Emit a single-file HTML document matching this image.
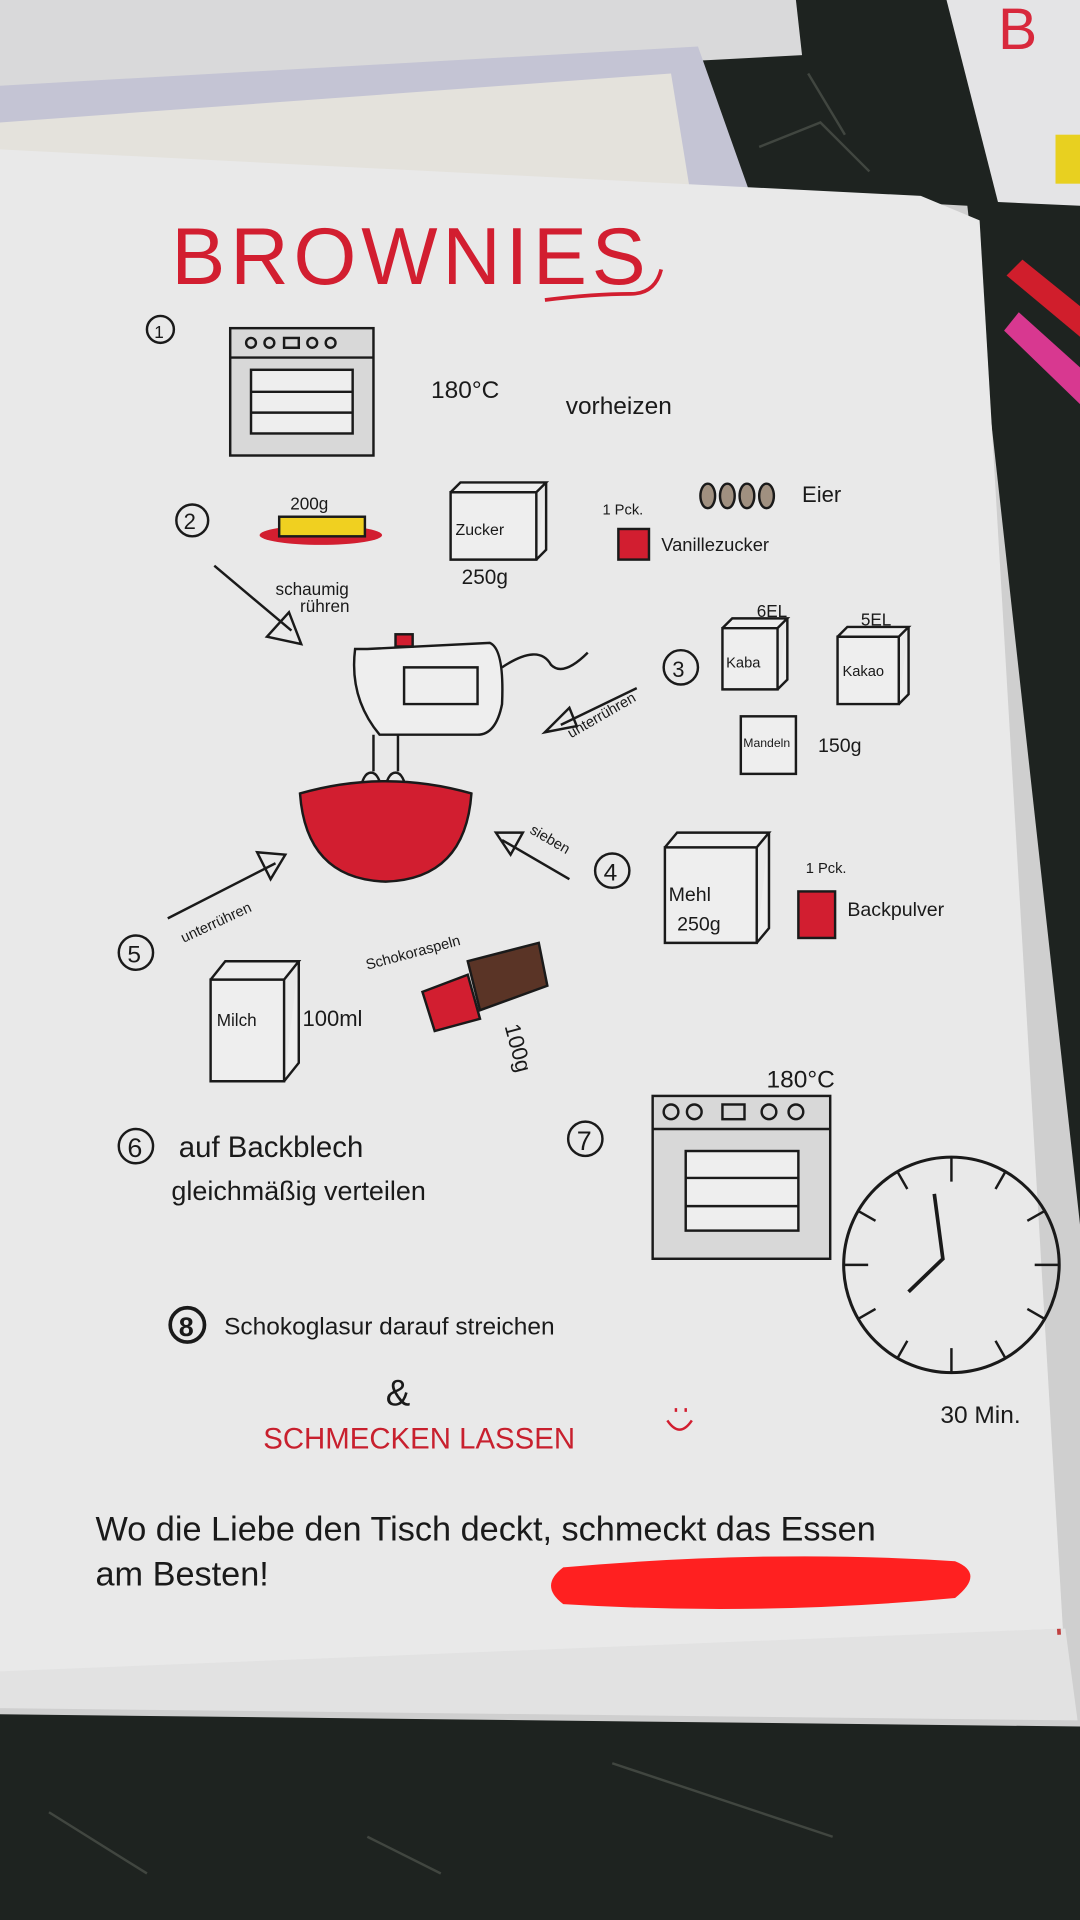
<!DOCTYPE html>
<html><head><meta charset="utf-8"><style>
html,body{margin:0;padding:0;width:1080px;height:1920px;overflow:hidden;background:#1c201e}
svg{display:block}
text{font-family:"Liberation Sans",sans-serif;fill:#1a1a1a}
</style></head><body>
<svg width="1080" height="1920" viewBox="0 0 882 1568" xmlns="http://www.w3.org/2000/svg">
<rect width="882" height="1568" fill="#1e2320"/>
<path d="M620 120 l50 -20 l40 40 M660 60 l30 50 M40 1480 l80 50 M500 1440 l180 60 M300 1500 l60 30" stroke="#50564f" stroke-width="2" fill="none" opacity=".7"/>
<!-- top left grid paper -->
<polygon points="0,0 650,0 655,45 0,80" fill="#d9d9da"/>
<!-- purple bordered paper -->
<polygon points="0,70 570,38 615,165 0,125" fill="#c4c4d4"/>
<polygon points="0,100 548,60 565,165 0,130" fill="#e4e2dc"/>
<!-- top right paper -->
<polygon points="773,0 882,0 882,168 815,165" fill="#e4e4e6"/>
<text x="815" y="40" font-size="48" style="fill:#d8283c">B</text>
<rect x="862" y="110" width="20" height="40" fill="#e8d020"/>
<!-- pens -->
<polygon points="822,225 835,212 882,250 882,275" fill="#d01e2c"/>
<polygon points="820,270 832,255 882,300 882,330" fill="#d83890"/>
<!-- page stack -->
<polygon points="0,125 790,168 882,1000 882,1410 0,1400" fill="#cfcfcf"/>
<polygon points="0,1360 870,1330 880,1405 0,1395" fill="#e2e2e2"/>
<line x1="790" y1="185" x2="865" y2="1335" stroke="#c04040" stroke-width="3"/>
<!-- main paper -->
<polygon points="0,122 752,160 800,180 868,1330 0,1365" fill="#e9e9e9"/>
<!-- title -->
<text x="140" y="232" font-size="66" letter-spacing="4" style="fill:#d21e30">BROWNIES</text>
<path d="M445 245 q40 -5 70 -5 q20 0 25 -20" stroke="#d21e30" stroke-width="3" fill="none"/>
<g stroke="#1a1a1a" stroke-width="2" fill="none">
<!-- 1 -->
<circle cx="131" cy="269" r="11"/>
<rect x="188" y="268" width="117" height="104" fill="#d8d8d8"/>
<line x1="188" y1="292" x2="305" y2="292"/>
<rect x="205" y="302" width="83" height="52" fill="#eeeeee"/>
<line x1="205" y1="320" x2="288" y2="320"/><line x1="205" y1="337" x2="288" y2="337"/>
<circle cx="205" cy="280" r="4"/><circle cx="220" cy="280" r="4"/><rect x="232" y="276" width="12" height="8"/><circle cx="255" cy="280" r="4"/><circle cx="270" cy="280" r="4"/>
<!-- 2 -->
<circle cx="157" cy="425" r="13"/>
<ellipse cx="262" cy="437" rx="50" ry="8" fill="#d21e30" stroke="none"/>
<rect x="228" y="422" width="70" height="16" fill="#f0d020"/>
<path d="M368 402 l70 0 l0 55 l-70 0z M368 402 l8 -8 l70 0 l-8 8 M446 394 l0 55 l-8 8" fill="#eee"/>
<rect x="505" y="432" width="25" height="25" fill="#d21e30"/>
<ellipse cx="578" cy="405" rx="6" ry="10" fill="#a09080"/><ellipse cx="594" cy="405" rx="6" ry="10" fill="#a09080"/><ellipse cx="610" cy="405" rx="6" ry="10" fill="#a09080"/><ellipse cx="626" cy="405" rx="6" ry="10" fill="#a09080"/>
<path d="M175 462 L238 515 M218 520 l28 6 l-10 -26z"/>
<!-- mixer -->
<path d="M300 530 l100 -5 q12 5 10 50 q-5 25 -20 25 l-80 0 q-25 -30 -20 -70z" fill="#eee"/>
<path d="M330 545 l60 0 l0 30 l-60 0z"/>
<rect x="323" y="518" width="14" height="10" fill="#d21e30"/>
<path d="M410 545 q30 -20 40 -2 q10 10 30 -10"/>
<path d="M305 600 l0 30 M325 600 l0 30"/>
<ellipse cx="303" cy="645" rx="8" ry="14"/><ellipse cx="323" cy="645" rx="8" ry="14"/>
<path d="M245 648 q70 -20 140 0 q-5 70 -70 72 q-65 -2 -70 -72z" fill="#d21e30"/>
<!-- 3 -->
<circle cx="556" cy="545" r="14"/>
<path d="M520 562 L458 592 M445 598 l20 -20 l6 15z"/>
<path d="M590 513 l45 0 l0 50 l-45 0z M590 513 l8 -8 l45 0 l-8 8 M643 505 l0 50 l-8 8" fill="#eee"/>
<path d="M684 520 l50 0 l0 55 l-50 0z M684 520 l8 -8 l50 0 l-8 8 M742 512 l0 55 l-8 8" fill="#eee"/>
<rect x="605" y="585" width="45" height="47" fill="#eee"/>
<!-- 4 -->
<circle cx="500" cy="711" r="14"/>
<path d="M465 718 L410 686 M405 680 l22 0 l-10 18z"/>
<path d="M543 692 l75 0 l0 78 l-75 0z M543 692 l10 -12 l75 0 l-10 12 M628 680 l0 78 l-10 12" fill="#eee"/>
<rect x="652" y="728" width="30" height="38" fill="#d21e30"/>
<!-- 5 -->
<circle cx="111" cy="778" r="14"/>
<path d="M137 750 L225 705 M210 696 l23 2 l-12 20z"/>
<path d="M172 800 l60 0 l0 83 l-60 0z M172 800 l12 -15 l60 0 l-12 15 M244 785 l0 83 l-12 15" fill="#eee"/>
<polygon points="345,810 382,796 392,832 355,842" fill="#d21e30"/>
<polygon points="382,785 440,770 447,805 392,825" fill="#5a3426"/>
<!-- 6,7 -->
<circle cx="111" cy="936" r="14"/>
<circle cx="478" cy="930" r="14"/>
<rect x="533" y="895" width="145" height="133" fill="#d8d8d8"/>
<line x1="533" y1="922" x2="678" y2="922"/>
<rect x="560" y="940" width="92" height="65" fill="#eee"/>
<line x1="560" y1="962" x2="652" y2="962"/><line x1="560" y1="985" x2="652" y2="985"/>
<circle cx="548" cy="908" r="6"/><circle cx="567" cy="908" r="6"/><rect x="590" y="902" width="18" height="12"/><circle cx="628" cy="908" r="6"/><circle cx="650" cy="908" r="6"/>
<circle cx="777" cy="1033" r="88" stroke-width="2.5"/>
<path d="M777 945 l0 20 M777 1121 l0 -20 M689 1033 l20 0 M865 1033 l-20 0 M821 957 l-8 14 M853 989 l-14 8 M853 1077 l-14 -8 M821 1109 l-8 -14 M733 957 l8 14 M701 989 l14 8 M701 1077 l14 -8 M733 1109 l8 -14"/>
<path d="M763 975 L770 1028 L742 1055" stroke-width="3"/>
<!-- 8 -->
<circle cx="153" cy="1082" r="14" stroke-width="3"/>
<path d="M545 1160 q10 15 20 0 M552 1150 l0 3 M560 1150 l0 3" stroke="#d21e30"/>
</g>
<g font-size="14">
<text x="126" y="276" font-size="14">1</text>
<text x="150" y="432" font-size="18">2</text>
<text x="549" y="553" font-size="18">3</text>
<text x="493" y="719" font-size="20">4</text>
<text x="104" y="786" font-size="20">5</text>
<text x="104" y="945" font-size="22">6</text>
<text x="471" y="939" font-size="22">7</text>
<text x="146" y="1091" font-size="22" font-weight="bold">8</text>
<text x="352" y="325" font-size="20">180°C</text>
<text x="462" y="338" font-size="20">vorheizen</text>
<text x="237" y="416" font-size="14">200g</text>
<text x="372" y="437" font-size="13">Zucker</text>
<text x="377" y="477" font-size="17">250g</text>
<text x="492" y="420" font-size="12">1 Pck.</text>
<text x="540" y="450" font-size="15">Vanillezucker</text>
<text x="655" y="410" font-size="18">Eier</text>
<text x="225" y="486" font-size="14">schaumig</text>
<text x="245" y="500" font-size="14">rühren</text>
<text x="618" y="504" font-size="14">6EL</text>
<text x="703" y="511" font-size="14">5EL</text>
<text x="593" y="545" font-size="12">Kaba</text>
<text x="688" y="552" font-size="12">Kakao</text>
<text x="607" y="610" font-size="10">Mandeln</text>
<text x="668" y="614" font-size="16">150g</text>
<text x="465" y="598" font-size="12" transform="rotate(-30 475 598)">unterrühren</text>
<text x="432" y="680" font-size="12" transform="rotate(30 432 680)">sieben</text>
<text x="658" y="713" font-size="12">1 Pck.</text>
<text x="692" y="748" font-size="16">Backpulver</text>
<text x="546" y="736" font-size="16">Mehl</text>
<text x="553" y="760" font-size="16">250g</text>
<text x="150" y="770" font-size="12" transform="rotate(-25 150 770)">unterrühren</text>
<text x="300" y="792" font-size="12" transform="rotate(-15 300 792)">Schokoraspeln</text>
<text x="412" y="838" font-size="18" transform="rotate(75 412 838)">100g</text>
<text x="177" y="838" font-size="14">Milch</text>
<text x="247" y="838" font-size="18">100ml</text>
<text x="626" y="888" font-size="20">180°C</text>
<text x="146" y="945" font-size="24">auf Backblech</text>
<text x="140" y="980" font-size="22">gleichmäßig verteilen</text>
<text x="183" y="1090" font-size="20">Schokoglasur darauf streichen</text>
<text x="315" y="1148" font-size="30">&amp;</text>
<text x="215" y="1183" font-size="24" style="fill:#c8202e">SCHMECKEN LASSEN</text>
<text x="768" y="1162" font-size="20">30 Min.</text>
<text x="78" y="1258" font-size="28">Wo die Liebe den Tisch deckt, schmeckt das Essen</text>
<text x="78" y="1295" font-size="28">am Besten!</text>
</g>
<path d="M460 1280 q170 -15 320 -5 q25 10 0 30 q-160 15 -320 5 q-20 -15 0 -30z" fill="#ff2020"/>
</svg>
</body></html>
